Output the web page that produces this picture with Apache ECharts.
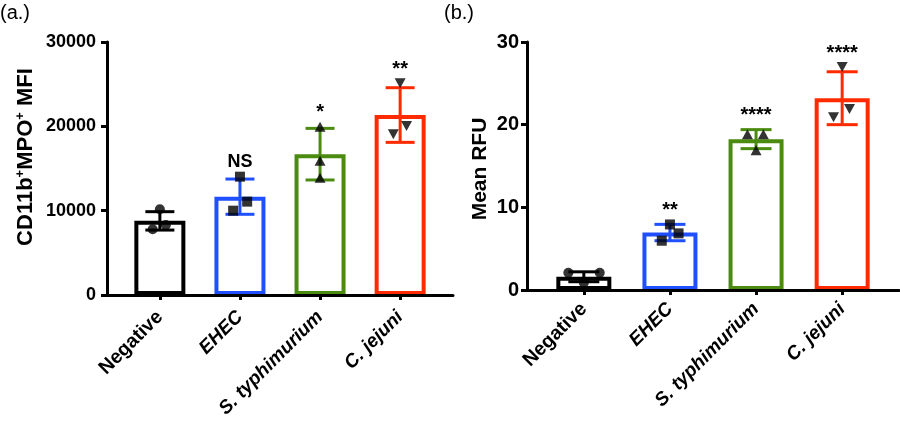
<!DOCTYPE html>
<html>
<head>
<meta charset="utf-8">
<script src="https://cdn.jsdelivr.net/npm/echarts@6/dist/echarts.min.js"></script>
<style>
html,body{margin:0;padding:0;background:#fff;}
#chart{width:900px;height:424px;}
</style>
</head>
<body>
<div id="chart"></div>
<script>
// ---------- data ----------
const categories = ['Negative', 'EHEC', 'S. typhimurium', 'C. jejuni'];
const italicCategory = [false, true, true, true];

// panel (a) CD11b+MPO+ MFI
const meanA = [8790, 11660, 16700, 21340];
const sdA = [1090, 2090, 3060, 3240];
const pointsA = [[10160, 7790, 8300], [14030, 11070, 10000], [19960, 15930, 13910], [25100, 19050, 20040]];
const jitterA = [[0, -0.09, 0.075], [0, 0.09, -0.085], [0, 0, 0], [0, -0.085, 0.08]];
const sigA = ['', 'NS', '*', '**'];
const yTicksA = [0, 10000, 20000, 30000];

// panel (b) Mean RFU
const meanB = [1.6, 6.95, 18.25, 23.2];
const sdB = [0.6, 0.99, 1.15, 3.2];
const pointsB = [[2.09, 2.09, 0.88], [7.93, 6.85, 5.96], [18.84, 18.84, 16.9], [26.97, 21.9, 20.9]];
const jitterB = [[-0.18, 0.185, 0], [0, 0.1, -0.095], [-0.1, 0.085, 0], [0, 0.085, -0.1]];
const sigB = ['', '**', '****', '****'];
const yTicksB = [0, 10, 20, 30];

// ---------- styles ----------
const FONT = "'Liberation Sans', Arial, Helvetica, sans-serif";
const barColors = ['#000000', '#1f4fff', '#4b8b0f', '#ff2a00'];
const markerSymbol = ['circle', 'rect', 'triangle', 'triangle'];
const markerRotate = [0, 0, 0, 180];

const chart = echarts.init(document.getElementById('chart'), null, {renderer: 'canvas'});

function xAxisFor(gridIndex, margin) {
  return {
    type: 'value', gridIndex: gridIndex, min: -0.66, max: 3.66, z: 10,
    splitLine: {show: false},
    axisLine: {show: true, onZero: false, lineStyle: {color: '#000', width: 3}},
    axisTick: {show: true, customValues: [0, 1, 2, 3], length: 5, inside: false, lineStyle: {color: '#000', width: 3}},
    axisLabel: {
      show: true, customValues: [0, 1, 2, 3], rotate: 45, margin: margin,
      formatter: function (v) {
        const k = Math.round(v);
        return (italicCategory[k] ? '{i|' : '{n|') + categories[k] + '}';
      },
      rich: {
        n: {fontFamily: FONT, fontSize: 19.5, fontWeight: 'bold', color: '#000'},
        i: {fontFamily: FONT, fontSize: 19, fontWeight: 'bold', fontStyle: 'italic', color: '#000'}
      }
    }
  };
}

function yAxisFor(gridIndex, ticks, fontSize, margin) {
  return {
    type: 'value', gridIndex: gridIndex, min: ticks[0], max: ticks[ticks.length - 1],
    interval: ticks[1] - ticks[0], z: 10,
    splitLine: {show: false},
    axisLine: {show: true, onZero: false, lineStyle: {color: '#000', width: 3}},
    axisTick: {show: true, length: 6, inside: false, lineStyle: {color: '#000', width: 3}},
    axisLabel: {show: true, margin: margin, fontFamily: FONT, fontSize: fontSize, fontWeight: 'bold', color: '#000',
      formatter: function (v) { return String(v); }}
  };
}

function panelSeries(idx, means, sds, points, jitter, sig, barWidth, capHalf, sigFont) {
  const out = [];
  out.push({
    type: 'bar', xAxisIndex: idx, yAxisIndex: idx, barWidth: barWidth, z: 2,
    itemStyle: {color: '#ffffff', borderWidth: 4},
    data: means.map(function (m, k) {
      return {value: [k, m], itemStyle: {borderColor: barColors[k]}};
    }),
    silent: true, animation: false
  });
  out.push({
    type: 'custom', xAxisIndex: idx, yAxisIndex: idx, z: 3,
    data: means.map(function (m, k) { return [k, m, sds[k], Math.max(m + sds[k], Math.max.apply(null, points[k]))]; }),
    renderItem: function (params, api) {
      const k = api.value(0), m = api.value(1), s = api.value(2), hi = api.value(3);
      const top = api.coord([k, m + s]);
      const bot = api.coord([k, m - s]);
      const ann = api.coord([k, hi]);
      const st = {stroke: barColors[k], lineWidth: 3};
      const children = [
        {type: 'line', shape: {x1: top[0], y1: top[1], x2: bot[0], y2: bot[1]}, style: st},
        {type: 'line', shape: {x1: top[0] - capHalf, y1: top[1], x2: top[0] + capHalf, y2: top[1]}, style: st},
        {type: 'line', shape: {x1: bot[0] - capHalf, y1: bot[1], x2: bot[0] + capHalf, y2: bot[1]}, style: st}
      ];
      if (sig[k]) {
        const isStar = sig[k].indexOf('*') >= 0;
        children.push({
          type: 'text',
          style: {
            text: sig[k], x: ann[0], y: ann[1] - (isStar ? 4 : 6),
            align: 'center', verticalAlign: 'bottom',
            fontFamily: FONT, fontWeight: 'bold', fontSize: isStar ? sigFont : 18, fill: '#000'
          }
        });
      }
      return {type: 'group', children: children};
    },
    silent: true, animation: false
  });
  const pts = [];
  points.forEach(function (arr, k) {
    arr.forEach(function (v, j) {
      pts.push({value: [k + jitter[k][j], v], symbol: markerSymbol[k], symbolRotate: markerRotate[k],
        symbolSize: markerSymbol[k] === 'rect' ? 10 : (markerSymbol[k] === 'circle' ? 10 : [11, 10])});
    });
  });
  out.push({
    type: 'scatter', xAxisIndex: idx, yAxisIndex: idx, z: 5,
    itemStyle: {color: '#000'}, data: pts, silent: true, animation: false
  });
  return out;
}

const option = {
  animation: false,
  backgroundColor: '#ffffff',
  grid: [
    {left: 107, right: 447, top: 42, bottom: 129, containLabel: false},
    {left: 527, right: 1, top: 42, bottom: 134, containLabel: false}
  ],
  xAxis: [xAxisFor(0, 19), xAxisFor(1, 16)],
  yAxis: [yAxisFor(0, yTicksA, 18, 11), yAxisFor(1, yTicksB, 20, 8)],
  series: [].concat(
    panelSeries(0, meanA, sdA, pointsA, jitterA, sigA, 51, 14.5, 20),
    panelSeries(1, meanB, sdB, pointsB, jitterB, sigB, 55, 15.5, 20)
  ),
  graphic: [
    {type: 'text', left: 0, top: 3, style: {text: '(a.)', fontFamily: FONT, fontSize: 20, fill: '#000'}},
    {type: 'text', left: 444, top: 3, style: {text: '(b.)', fontFamily: FONT, fontSize: 20, fill: '#000'}},
    {type: 'text', x: 26, y: 157, rotation: Math.PI / 2,
      style: {
        text: '{m|CD11b}{s|+}{m|MPO}{s|+}{m| MFI}', align: 'center', verticalAlign: 'middle',
        rich: {
          m: {fontFamily: FONT, fontSize: 22, fontWeight: 'bold', fill: '#000', lineHeight: 25},
          s: {fontFamily: FONT, fontSize: 13, fontWeight: 'bold', fill: '#000', verticalAlign: 'top', lineHeight: 15}
        }
      }},
    {type: 'text', x: 480, y: 169, rotation: Math.PI / 2,
      style: {text: 'Mean RFU', align: 'center', verticalAlign: 'middle',
        fontFamily: FONT, fontSize: 21, fontWeight: 'bold', fill: '#000'}}
  ]
};
chart.setOption(option);
</script>
</body>
</html>
